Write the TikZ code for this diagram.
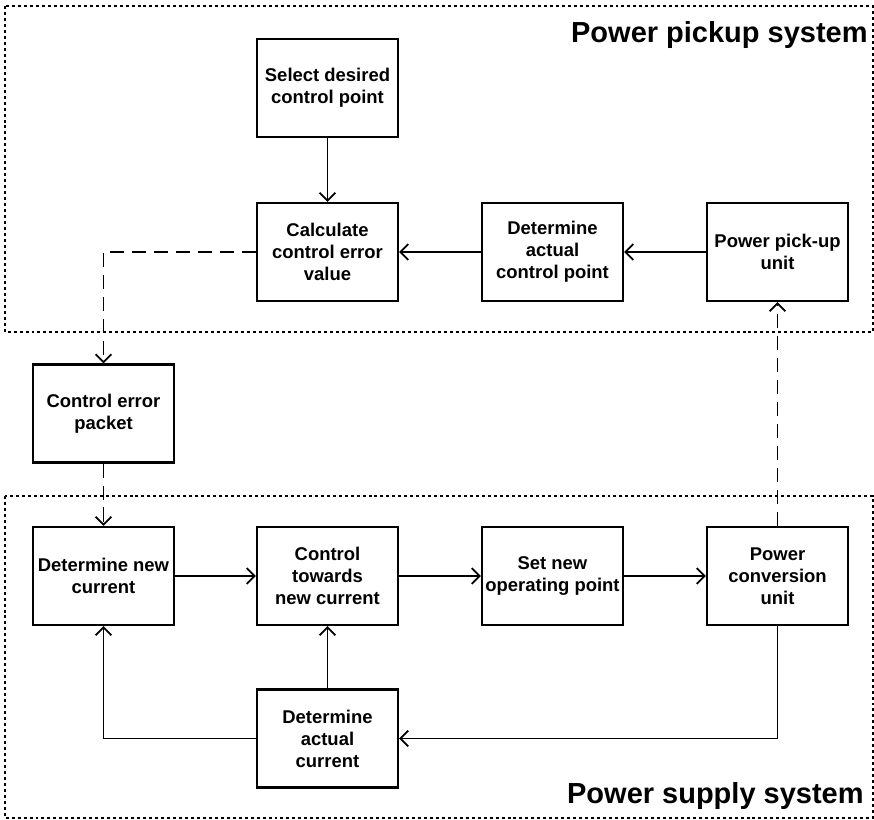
\documentclass[tikz,border=0pt]{standalone}
\usepackage{fontspec}
\setmainfont{Liberation Sans}
\usepackage{tikz}
\usetikzlibrary{arrows.meta,positioning}

\begin{document}
\begin{tikzpicture}[every node/.style={font=\fontsize{10.5}{12.5}\selectfont\bfseries}, >={Straight Barb[length=4.5pt,width=9pt]}]
\tikzset{blk/.style={draw, line width=1.2pt, minimum width=2.82cm, minimum height=1.96cm, align=center, inner sep=1pt},
  flow/.style={->, line width=1pt},
  link/.style={->, line width=1pt, dash pattern=on 8pt off 4.5pt},
  group/.style={line width=0.9pt, dash pattern=on 1.7pt off 1.7pt},
  title/.style={font=\fontsize{16.5}{19}\selectfont\bfseries, inner sep=0pt}}
\useasboundingbox (0,0) rectangle (17.48,-16.4);
% system frames
\draw[group] (0.1,-0.12) rectangle (17.46,-6.64);
\draw[group] (0.1,-9.92) rectangle (17.46,-16.36);
\node[title, anchor=base east] (pickup) at (17.36,-0.86) {Power pickup system};
\node[title, anchor=base east] (supply) at (17.28,-16.06) {Power supply system};
% power pickup side
\node[blk] (sel) at (6.55,-1.76) {Select desired\\control point};
\node[blk] (calc) at (6.55,-5.04) {Calculate\\control error\\value};
\node[blk] (det) at (11.05,-5.04) {Determine\\actual\\control point};
\node[blk] (pick) at (15.55,-5.04) {Power pick-up\\unit};
\node[blk] (pkt) at (2.07,-8.27) {Control error\\packet};
% power supply side
\node[blk] (newc) at (2.07,-11.52) {Determine new\\current};
\node[blk] (ctrl) at (6.55,-11.52) {Control\\towards\\new current};
\node[blk] (setop) at (11.05,-11.52) {Set new\\operating point};
\node[blk] (conv) at (15.55,-11.52) {Power\\conversion\\unit};
\node[blk] (actc) at (6.55,-14.77) {Determine\\actual\\current};
\draw[flow] (sel)--(calc);
\draw[flow] (det)--(calc);
\draw[flow] (pick)--(det);
\draw[link] (calc.west) -| (pkt.north);
\draw[link] (pkt)--(newc);
\draw[flow] (newc)--(ctrl);
\draw[flow] (ctrl)--(setop);
\draw[flow] (setop)--(conv);
\draw[link] (conv)--(pick);
\draw[flow] (conv.south) |- (actc.east);
\draw[flow] (actc.west) -| (newc.south);
\draw[flow] (actc)--(ctrl);
\end{tikzpicture}
\end{document}
